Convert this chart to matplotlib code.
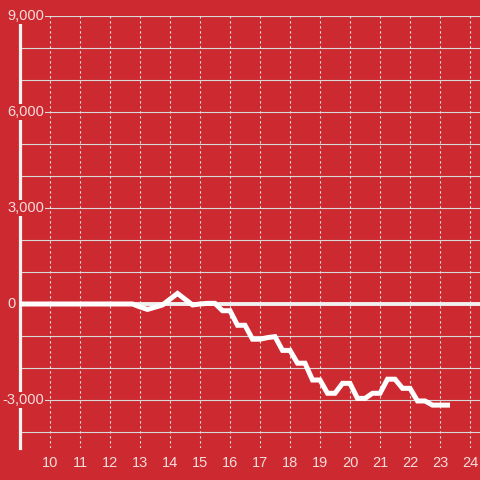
import numpy as np
import matplotlib.pyplot as plt

# series sampled every 15 minutes, hour of day
hours = [9.0, 9.25, 9.5, 9.75, 10.0, 10.25, 10.5, 10.75, 11.0, 11.25, 11.5, 11.75,
         12.0, 12.25, 12.5, 12.75, 13.0, 13.25, 13.5, 13.75, 14.0, 14.25, 14.5, 14.75,
         15.0, 15.25, 15.5, 15.75, 16.0, 16.25, 16.5, 16.75, 17.0, 17.25, 17.5, 17.75,
         18.0, 18.25, 18.5, 18.75, 19.0, 19.25, 19.5, 19.75, 20.0, 20.25, 20.5, 20.75,
         21.0, 21.25, 21.5, 21.75, 22.0, 22.25, 22.5, 22.75, 23.0, 23.25]
values = [0, 0, 0, 0, 0, 0, 0, 0, 0, 0, 0, 0,
          0, 0, 0, 0, -90, -170, -100, -30, 150, 330, 150, -30,
          0, 20, 20, -210, -210, -665, -665, -1100, -1100, -1050, -1020, -1450,
          -1450, -1850, -1850, -2375, -2375, -2790, -2790, -2480, -2480, -2950, -2950, -2790,
          -2790, -2350, -2350, -2635, -2635, -3030, -3030, -3160, -3160, -3160]

x_ticks = list(range(10, 25))
y_ticks = [-3000, 0, 3000, 6000, 9000]
y_grid = list(range(-4000, 10000, 1000))

bg = '#cc2a30'
txt = '#f6dcdd'
plt.rcParams['font.family'] = ['Liberation Sans', 'DejaVu Sans']

fig = plt.figure(figsize=(4.8, 4.8), dpi=100, facecolor=bg)
ax = fig.add_axes([20 / 480, 32 / 480, 460 / 480, 432 / 480])
ax.set_facecolor(bg)
ax.set_xlim(9.0, 9.0 + 460 / 30)
ax.set_ylim(-4500, 9000)

for s in ['top', 'right', 'bottom']:
    ax.spines[s].set_visible(False)
ax.spines['left'].set_color('#f2f2f2')
ax.spines['left'].set_linewidth(2.3)
ax.spines['left'].set_zorder(2)

# grid
for g in y_grid:
    ax.axhline(g, color='#d9d9d9', linewidth=0.8, zorder=1)
for t in x_ticks:
    ax.axvline(t, color='#e6e6e6', linewidth=0.8, linestyle=(0, (2, 2.5)), zorder=1)
ax.axhline(0, color='#f0f0f0', linewidth=2.8, zorder=2)

ax.plot(hours, values, color='white', linewidth=3.6, solid_joinstyle='miter', zorder=4)

ax.set_xticks([])
ax.set_yticks([])
for t in x_ticks:
    ax.text(t, -4750, str(t), ha='center', va='top',
            fontsize=10.5, color=txt, clip_on=False)
# y labels are left aligned just inside the figure edge
for v in y_ticks:
    x0 = -13 / 460 if v >= 0 else -18 / 460
    ax.text(x0, v, f'{v:,}', transform=ax.get_yaxis_transform(),
            ha='left', va='center', fontsize=10.5, color=txt, clip_on=False, zorder=5,
            bbox=dict(facecolor=bg, edgecolor='none', pad=1.0))

plt.savefig('out.png', dpi=100, facecolor=bg)
